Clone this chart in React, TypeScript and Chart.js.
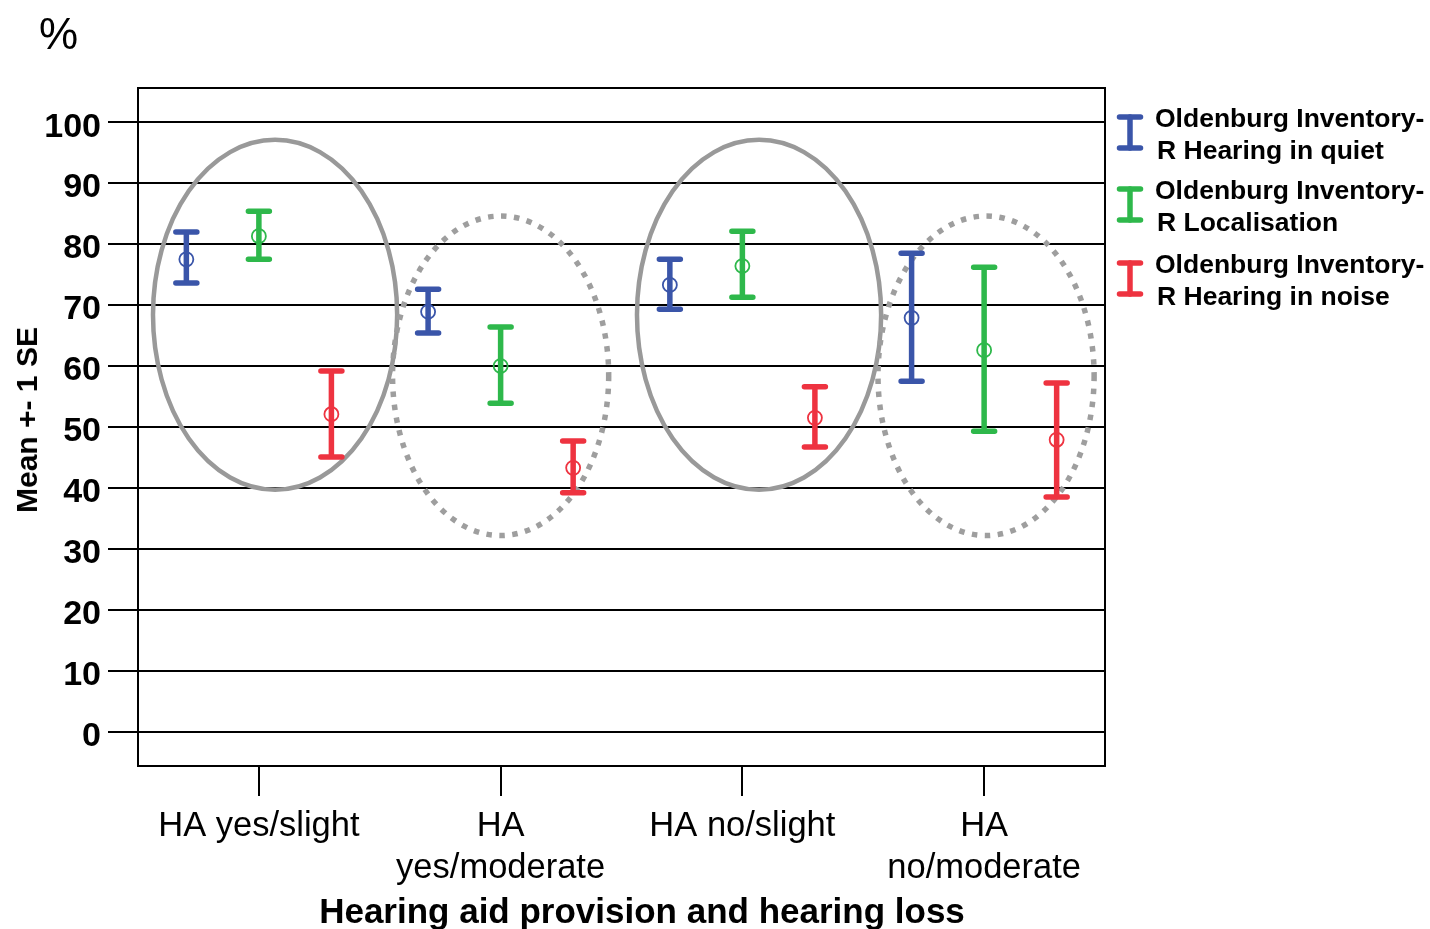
import React, { useEffect, useRef } from "react";
import { Chart, registerables } from "chart.js";

Chart.register(...registerables);

const CATEGORIES: string[][] = [["HA yes/slight"], ["HA", "yes/moderate"], ["HA no/slight"], ["HA", "no/moderate"]];
const Y_TICKS = [0, 10, 20, 30, 40, 50, 60, 70, 80, 90, 100];

const SERIES_NAMES = [
  ["Oldenburg Inventory-", "R Hearing in quiet"],
  ["Oldenburg Inventory-", "R Localisation"],
  ["Oldenburg Inventory-", "R Hearing in noise"],
];

const QUIET_MEAN = [77.5, 68.9, 73.3, 67.9];
const QUIET_LOW = [73.6, 65.4, 69.3, 57.5];
const QUIET_HIGH = [82.0, 72.6, 77.5, 78.5];

const LOC_MEAN = [81.3, 60.0, 76.4, 62.6];
const LOC_LOW = [77.5, 53.9, 71.3, 49.3];
const LOC_HIGH = [85.4, 66.4, 82.1, 76.2];

const NOISE_MEAN = [52.1, 43.3, 51.5, 47.9];
const NOISE_LOW = [45.1, 39.2, 46.7, 38.5];
const NOISE_HIGH = [59.2, 47.7, 56.6, 57.2];

const SERIES_OFFSETS = [-0.3, 0, 0.3];

// highlight ellipses (data units)
const ELLIPSE_CX = [0.067, 1.0, 2.069, 3.008];
const ELLIPSE_CY = [68.4, 58.4, 68.4, 58.4];
const ELLIPSE_RX = [0.505, 0.447, 0.505, 0.447];
const ELLIPSE_RY = [28.7, 26.2, 28.7, 26.2];
const ELLIPSE_DOTTED = [false, true, false, true];

const COLORS = ["#3a55a9", "#2eb84b", "#ee3340"];
const FONT = "'Liberation Sans', Arial, Helvetica, sans-serif";

const MEANS = [QUIET_MEAN, LOC_MEAN, NOISE_MEAN];
const LOWS = [QUIET_LOW, LOC_LOW, NOISE_LOW];
const HIGHS = [QUIET_HIGH, LOC_HIGH, NOISE_HIGH];

const overlayPlugin = {
  id: "overlay",
  beforeDatasetsDraw(chart: any) {
    const ctx = chart.ctx;
    const xs = chart.scales.x;
    const ys = chart.scales.y;
    ctx.save();
    // ellipses
    for (let k = 0; k < ELLIPSE_CX.length; k++) {
      const cx = xs.getPixelForValue(ELLIPSE_CX[k]);
      const cy = ys.getPixelForValue(ELLIPSE_CY[k]);
      const rx = Math.abs(xs.getPixelForValue(ELLIPSE_CX[k] + ELLIPSE_RX[k]) - cx);
      const ry = Math.abs(ys.getPixelForValue(ELLIPSE_CY[k] + ELLIPSE_RY[k]) - cy);
      ctx.beginPath();
      ctx.ellipse(cx, cy, rx, ry, 0, 0, Math.PI * 2);
      if (ELLIPSE_DOTTED[k]) {
        ctx.setLineDash([5.5, 7.5]);
        ctx.lineWidth = 5.5;
        ctx.lineCap = "butt";
        ctx.strokeStyle = "#9e9e9e";
      } else {
        ctx.setLineDash([]);
        ctx.lineWidth = 4.5;
        ctx.strokeStyle = "#999999";
      }
      ctx.stroke();
    }
    ctx.setLineDash([]);
    // error bars
    ctx.lineWidth = 5.5;
    ctx.lineCap = "round";
    for (let i = 0; i < MEANS.length; i++) {
      ctx.strokeStyle = COLORS[i];
      for (let j = 0; j < MEANS[i].length; j++) {
        const x = xs.getPixelForValue(j + SERIES_OFFSETS[i]);
        const yl = ys.getPixelForValue(LOWS[i][j]);
        const yh = ys.getPixelForValue(HIGHS[i][j]);
        ctx.beginPath();
        ctx.moveTo(x, yl);
        ctx.lineTo(x, yh);
        ctx.moveTo(x - 10.5, yl);
        ctx.lineTo(x + 10.5, yl);
        ctx.moveTo(x - 10.5, yh);
        ctx.lineTo(x + 10.5, yh);
        ctx.stroke();
      }
    }
    ctx.restore();
  },
  afterDraw(chart: any) {
    const ctx = chart.ctx;
    const a = chart.chartArea;
    ctx.save();
    ctx.strokeStyle = "#000";
    ctx.lineWidth = 2;
    ctx.beginPath();
    ctx.moveTo(a.left, a.top);
    ctx.lineTo(a.right, a.top);
    ctx.lineTo(a.right, a.bottom);
    ctx.stroke();
    ctx.restore();
  },
};

function LegendIcon({ color }: { color: string }) {
  return (
    <svg width={30} height={40} style={{ position: "absolute", left: -40, top: 12 }}>
      <g stroke={color} strokeWidth={5.5} strokeLinecap="round">
        <line x1={15} y1={3} x2={15} y2={34} />
        <line x1={4.5} y1={3} x2={25.5} y2={3} />
        <line x1={4.5} y1={34} x2={25.5} y2={34} />
      </g>
    </svg>
  );
}

export default function App() {
  const canvasRef = useRef<HTMLCanvasElement | null>(null);

  useEffect(() => {
    if (!canvasRef.current) return;
    const chart = new Chart(canvasRef.current, {
      type: "scatter",
      data: {
        datasets: MEANS.map((m, i) => ({
          label: SERIES_NAMES[i].join(""),
          data: m.map((v, j) => ({ x: j + SERIES_OFFSETS[i], y: v })),
          borderColor: COLORS[i],
          backgroundColor: "rgba(0,0,0,0)",
          pointRadius: 7,
          pointBorderWidth: 1.8,
          pointStyle: "circle",
          showLine: false,
        })),
      },
      options: {
        responsive: false,
        animation: false,
        devicePixelRatio: 1,
        layout: { padding: { left: 0, right: 325, top: 88, bottom: 0 } },
        plugins: { legend: { display: false }, tooltip: { enabled: false } },
        scales: {
          x: {
            type: "linear",
            min: -0.5,
            max: 3.5,
            afterBuildTicks: (s: any) => {
              s.ticks = CATEGORIES.map((_, i) => ({ value: i }));
            },
            afterFit: (s: any) => {
              s.height = 163;
            },
            ticks: {
              callback: (_v: any, idx: number) => CATEGORIES[idx],
              font: { family: FONT, size: 34.5, lineHeight: 1.22 },
              color: "#000",
              padding: 9,
              maxRotation: 0,
              autoSkip: false,
            },
            grid: { drawOnChartArea: false, drawTicks: true, tickLength: 30, color: "#000", lineWidth: 2 },
            border: { display: true, color: "#000", width: 2 },
          },
          y: {
            min: -5.6,
            max: 105.6,
            afterBuildTicks: (s: any) => {
              s.ticks = Y_TICKS.map((v) => ({ value: v }));
            },
            afterFit: (s: any) => {
              s.width = 138;
            },
            ticks: {
              callback: (v: any) => String(v),
              font: { family: FONT, size: 34, weight: "bold" },
              color: "#000",
              padding: 7,
              labelOffset: 5,
            },
            grid: { drawTicks: true, tickLength: 30, color: "#000", lineWidth: 2 },
            border: { display: true, color: "#000", width: 2 },
          },
        },
      },
      plugins: [overlayPlugin],
    } as any);
    return () => chart.destroy();
  }, []);

  const legendTops = [102, 174, 248];

  return (
    <div style={{ position: "absolute", left: 0, top: 0, width: 1430, height: 929, background: "#fff", fontFamily: FONT, overflow: "hidden" }}>
      <canvas ref={canvasRef} width={1430} height={929} style={{ position: "absolute", left: 0, top: 0 }} />
      <div style={{ position: "absolute", left: 39, top: 12, fontSize: 44, lineHeight: "44px", color: "#000" }}>%</div>
      <div
        style={{
          position: "absolute",
          left: 27,
          top: 420,
          transform: "translate(-50%, -50%) rotate(-90deg)",
          fontSize: 30,
          lineHeight: "30px",
          fontWeight: "bold",
          whiteSpace: "nowrap",
          color: "#000",
        }}
      >
        Mean +- 1 SE
      </div>
      <div
        style={{
          position: "absolute",
          left: 642,
          top: 893,
          transform: "translateX(-50%)",
          fontSize: 35,
          lineHeight: "35px",
          fontWeight: "bold",
          whiteSpace: "nowrap",
          color: "#000",
        }}
      >
        Hearing aid provision and hearing loss
      </div>
      {SERIES_NAMES.map((lines, i) => (
        <div
          key={i}
          style={{
            position: "absolute",
            left: 1155,
            top: legendTops[i],
            fontSize: 26.5,
            lineHeight: "32px",
            fontWeight: "bold",
            whiteSpace: "nowrap",
            color: "#000",
          }}
        >
          <LegendIcon color={COLORS[i]} />
          <div>{lines[0]}</div>
          <div style={{ paddingLeft: 2 }}>{lines[1]}</div>
        </div>
      ))}
    </div>
  );
}
